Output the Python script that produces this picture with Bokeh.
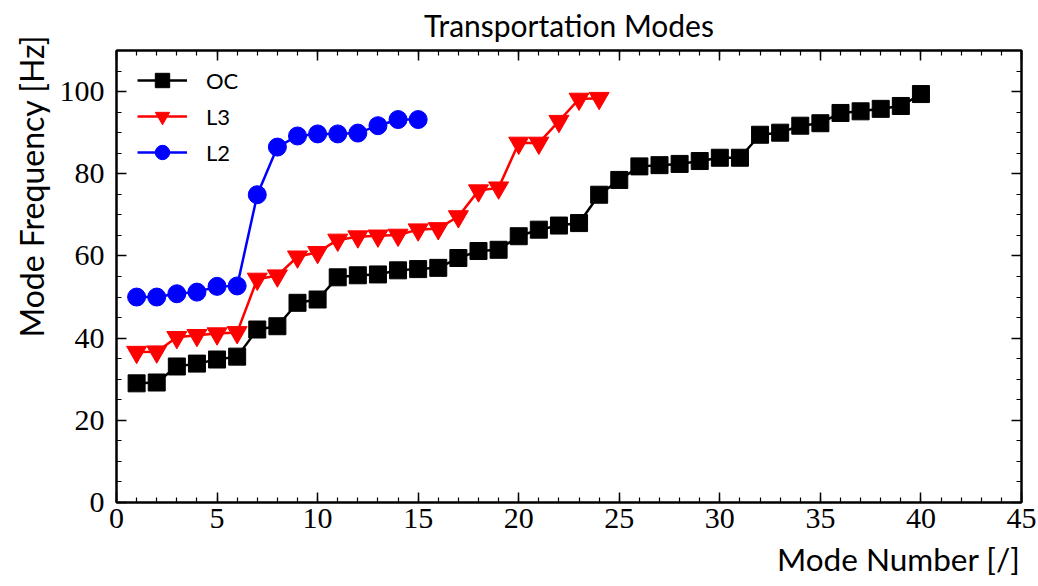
from bokeh.plotting import figure
from bokeh.models import Range1d, LinearAxis, SingleIntervalTicker, Legend, LegendItem, Title
from bokeh.embed import file_html
from bokeh.resources import INLINE

# ---- data ----
mode_oc = list(range(1, 41))
freq_oc = [29.0, 29.2, 33.1, 33.8, 34.8, 35.5, 42.1, 42.9, 48.6, 49.4,
           54.8, 55.3, 55.5, 56.5, 56.8, 57.1, 59.5, 61.2, 61.5, 64.8,
           66.4, 67.4, 68.0, 74.9, 78.5, 81.8, 82.1, 82.4, 83.1, 83.9,
           83.9, 89.5, 90.0, 91.7, 92.3, 94.8, 95.2, 95.8, 96.5, 99.4]

mode_l3 = list(range(1, 25))
freq_l3 = [36.6, 36.7, 40.2, 40.7, 41.1, 41.4, 54.4, 55.2, 59.8, 60.9,
           63.9, 64.7, 64.9, 65.1, 66.4, 66.7, 69.6, 75.9, 76.6, 87.5,
           87.5, 92.8, 98.2, 98.4]

mode_l2 = list(range(1, 16))
freq_l2 = [50.0, 50.0, 50.8, 51.2, 52.6, 52.7, 74.9, 86.5, 89.2, 89.7,
           89.7, 89.9, 91.7, 93.2, 93.2]

series_names = ["OC", "L3", "L2"]
title_text = "Transportation Modes"
x_label = "Mode Number [/]"
y_label = "Mode Frequency [Hz]"

SANS = "Lato"
SERIF = "Liberation Serif"

p = figure(width=1038, height=586, x_range=Range1d(0, 45), y_range=Range1d(0, 110),
           output_backend="svg", toolbar_location=None,
           min_border_left=116, min_border_right=17, min_border_top=50, min_border_bottom=84,
           background_fill_color="white", border_fill_color="white")
p.grid.visible = False
p.outline_line_color = "black"
p.outline_line_width = 2

p.title.text = title_text
p.title.align = "center"
p.title.vertical_align = "top"
p.title.standoff = 12
p.title.text_font = SANS
p.title.text_font_size = "30px"
p.title.text_font_style = "normal"
p.title.text_color = "black"

xt = SingleIntervalTicker(interval=5, num_minor_ticks=5)
yt = SingleIntervalTicker(interval=20, num_minor_ticks=4)

def style_axis(ax, ticker, labels=True):
    ax.ticker = ticker
    ax.axis_line_color = "black"
    ax.axis_line_width = 2
    ax.major_tick_in = 10
    ax.major_tick_out = 0
    ax.minor_tick_in = 5
    ax.minor_tick_out = 0
    ax.major_tick_line_color = "black"
    ax.minor_tick_line_color = "black"
    ax.major_tick_line_width = 1.5
    ax.minor_tick_line_width = 1.2
    if labels:
        ax.major_label_text_font = SERIF
        ax.major_label_text_font_size = "30px"
        ax.major_label_text_color = "black"
    else:
        ax.major_label_text_font_size = "0px"
        ax.major_label_standoff = 0

style_axis(p.xaxis[0], xt)
style_axis(p.yaxis[0], yt)
p.xaxis[0].major_label_standoff = 6
p.yaxis[0].major_label_standoff = 12

top_ax = LinearAxis()
style_axis(top_ax, xt, labels=False)
p.add_layout(top_ax, "above")
right_ax = LinearAxis()
style_axis(right_ax, yt, labels=False)
p.add_layout(right_ax, "right")

xl = Title(text=x_label, align="right", text_font=SANS, text_font_size="31.5px",
           text_font_style="normal", text_color="black", standoff=14, offset=1)
p.add_layout(xl, "below")
yl = Title(text=y_label, align="left", text_font=SANS, text_font_size="32px",
           text_font_style="normal", text_color="black", standoff=12, offset=165)
p.add_layout(yl, "left")

colors = ["black", "red", "blue"]
markers = ["square", "inverted_triangle", "circle"]
sizes = [17, 20, 18]
datasets = [(mode_oc, freq_oc), (mode_l3, freq_l3), (mode_l2, freq_l2)]

items = []
for name, (xs, ys), c, m, s in zip(series_names, datasets, colors, markers, sizes):
    lr = p.line(xs, ys, line_color=c, line_width=2.5)
    sr = p.scatter(xs, ys, marker=m, size=s, fill_color=c, line_color=c, line_width=1)
    items.append(LegendItem(label=name, renderers=[lr, sr]))

legend = Legend(items=items, location=(21, 332), border_line_color=None,
                background_fill_alpha=0, glyph_width=50, glyph_height=36, spacing=0,
                padding=0, margin=0, label_text_font=SANS, label_text_font_size="22px",
                label_standoff=19, label_text_color="black")
p.add_layout(legend, "center")

open("out.html", "w").write(file_html(p, INLINE))
